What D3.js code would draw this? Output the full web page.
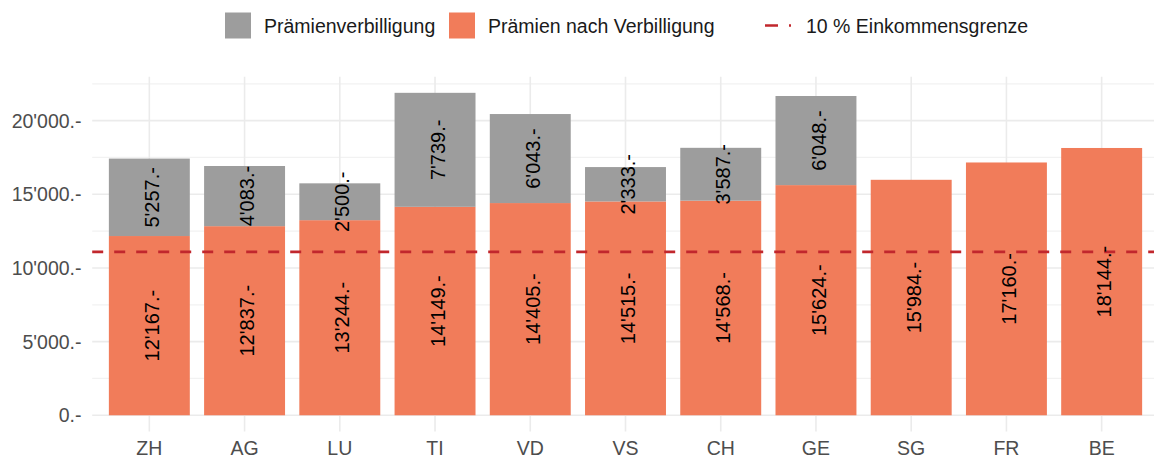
<!DOCTYPE html>
<html>
<head>
<meta charset="utf-8">
<script src="https://cdn.jsdelivr.net/npm/d3@7"></script>
<style>
  body { margin: 0; background: #fff; }
  svg text { font-family: "Liberation Sans", Arial, sans-serif; }
</style>
</head>
<body>
<div id="chart"></div>
<script>
// data
const cantons   = ["ZH", "AG", "LU", "TI", "VD", "VS", "CH", "GE", "SG", "FR", "BE"];
const afterSub  = [12167, 12837, 13244, 14149, 14405, 14515, 14568, 15624, 15984, 17160, 18144];
const subsidy   = [5257, 4083, 2500, 7739, 6043, 2333, 3587, 6048, 0, 0, 0];
const yTicks    = [0, 5000, 10000, 15000, 20000];
const incomeLimit = 11090;
const legendLabels = ["Prämienverbilligung", "Prämien nach Verbilligung", "10 % Einkommensgrenze"];

const W = 1154, H = 459;
const panel = { left: 92.2, right: 1158.8, top: 76.7, bottom: 431.4 };

const colGray = "#9d9d9d";
const colOrange = "#f17c5a";
const colLine = "#c1272d";

const chf = d3.formatLocale({ decimal: ".", thousands: "'", grouping: [3], currency: ["", ""] });
const fmt = v => chf.format(",d")(v) + ".-";

const svg = d3.select("#chart").append("svg")
  .attr("width", W)
  .attr("height", H);

// scales (ggplot style 5% expansion)
const maxTotal = d3.max(cantons, (c, i) => afterSub[i] + subsidy[i]);
const y = d3.scaleLinear()
  .domain([-maxTotal * 0.05, maxTotal * 1.05])
  .range([panel.bottom, panel.top]);

const x = d3.scalePoint()
  .domain(cantons)
  .range([panel.left, panel.right])
  .padding(0.6);

const barW = x.step() * 0.85;

// grid
const grid = svg.append("g");
const minor = yTicks.map(t => t + 2500);
grid.selectAll("line.minor").data(minor).join("line")
  .attr("x1", panel.left).attr("x2", panel.right)
  .attr("y1", d => y(d)).attr("y2", d => y(d))
  .attr("stroke", "#f2f2f2").attr("stroke-width", 1.2);
grid.selectAll("line.major").data(yTicks).join("line")
  .attr("x1", panel.left).attr("x2", panel.right)
  .attr("y1", d => y(d)).attr("y2", d => y(d))
  .attr("stroke", "#ebebeb").attr("stroke-width", 1.6);
grid.selectAll("line.vert").data(cantons).join("line")
  .attr("x1", d => x(d)).attr("x2", d => x(d))
  .attr("y1", panel.top).attr("y2", panel.bottom)
  .attr("stroke", "#ebebeb").attr("stroke-width", 1.6);

// stacked bars
const rows = cantons.map((c, i) => ({ c, a: afterSub[i], s: subsidy[i] }));

svg.append("g").selectAll("rect").data(rows).join("rect")
  .attr("x", d => x(d.c) - barW / 2)
  .attr("width", barW)
  .attr("y", d => y(d.a))
  .attr("height", d => y(0) - y(d.a))
  .attr("fill", colOrange);

svg.append("g").selectAll("rect").data(rows.filter(d => d.s > 0)).join("rect")
  .attr("x", d => x(d.c) - barW / 2)
  .attr("width", barW)
  .attr("y", d => y(d.a + d.s))
  .attr("height", d => y(d.a) - y(d.a + d.s))
  .attr("fill", colGray);

// 10% income limit
svg.append("line")
  .attr("x1", panel.left).attr("x2", panel.right)
  .attr("y1", y(incomeLimit)).attr("y2", y(incomeLimit))
  .attr("stroke", colLine)
  .attr("stroke-width", 2.6)
  .attr("stroke-dasharray", "11,11");

// value labels
const lbl = svg.append("g").attr("font-size", 20).attr("fill", "#000");
const addLabel = (cx, cy, t) => lbl.append("text")
  .attr("transform", "translate(" + cx + "," + cy + ") rotate(-90)")
  .attr("text-anchor", "middle")
  .attr("dy", "0.48em")
  .text(t);

rows.forEach(d => {
  addLabel(x(d.c), y(d.a / 2), fmt(d.a));
  if (d.s > 0) addLabel(x(d.c), y(d.a + d.s / 2), fmt(d.s));
});

// axes labels
svg.append("g").selectAll("text").data(yTicks).join("text")
  .attr("x", 81.5)
  .attr("y", d => y(d))
  .attr("dy", "0.36em")
  .attr("text-anchor", "end")
  .attr("font-size", 19.5)
  .attr("fill", "#4d4d4d")
  .text(d => fmt(d));

svg.append("g").selectAll("text").data(cantons).join("text")
  .attr("x", d => x(d))
  .attr("y", 455)
  .attr("text-anchor", "middle")
  .attr("font-size", 19.5)
  .attr("fill", "#4d4d4d")
  .text(d => d);

// legend
const leg = svg.append("g").attr("font-size", 19.5).attr("fill", "#1a1a1a");
const keyX = [225, 449, 765];
const keyY = 12.5, keySize = 26;

leg.append("rect").attr("x", keyX[0]).attr("y", keyY).attr("width", keySize).attr("height", keySize).attr("fill", colGray);
leg.append("rect").attr("x", keyX[1]).attr("y", keyY).attr("width", keySize).attr("height", keySize).attr("fill", colOrange);
leg.append("line")
  .attr("x1", keyX[2]).attr("x2", keyX[2] + keySize)
  .attr("y1", keyY + keySize / 2).attr("y2", keyY + keySize / 2)
  .attr("stroke", colLine).attr("stroke-width", 2.6)
  .attr("stroke-dasharray", "2,0,11,11");

legendLabels.forEach((t, i) => {
  leg.append("text")
    .attr("x", keyX[i] + keySize + (i == 2 ? 15 : 13))
    .attr("y", keyY + keySize / 2)
    .attr("dy", "0.36em")
    .text(t);
});
</script>
</body>
</html>
